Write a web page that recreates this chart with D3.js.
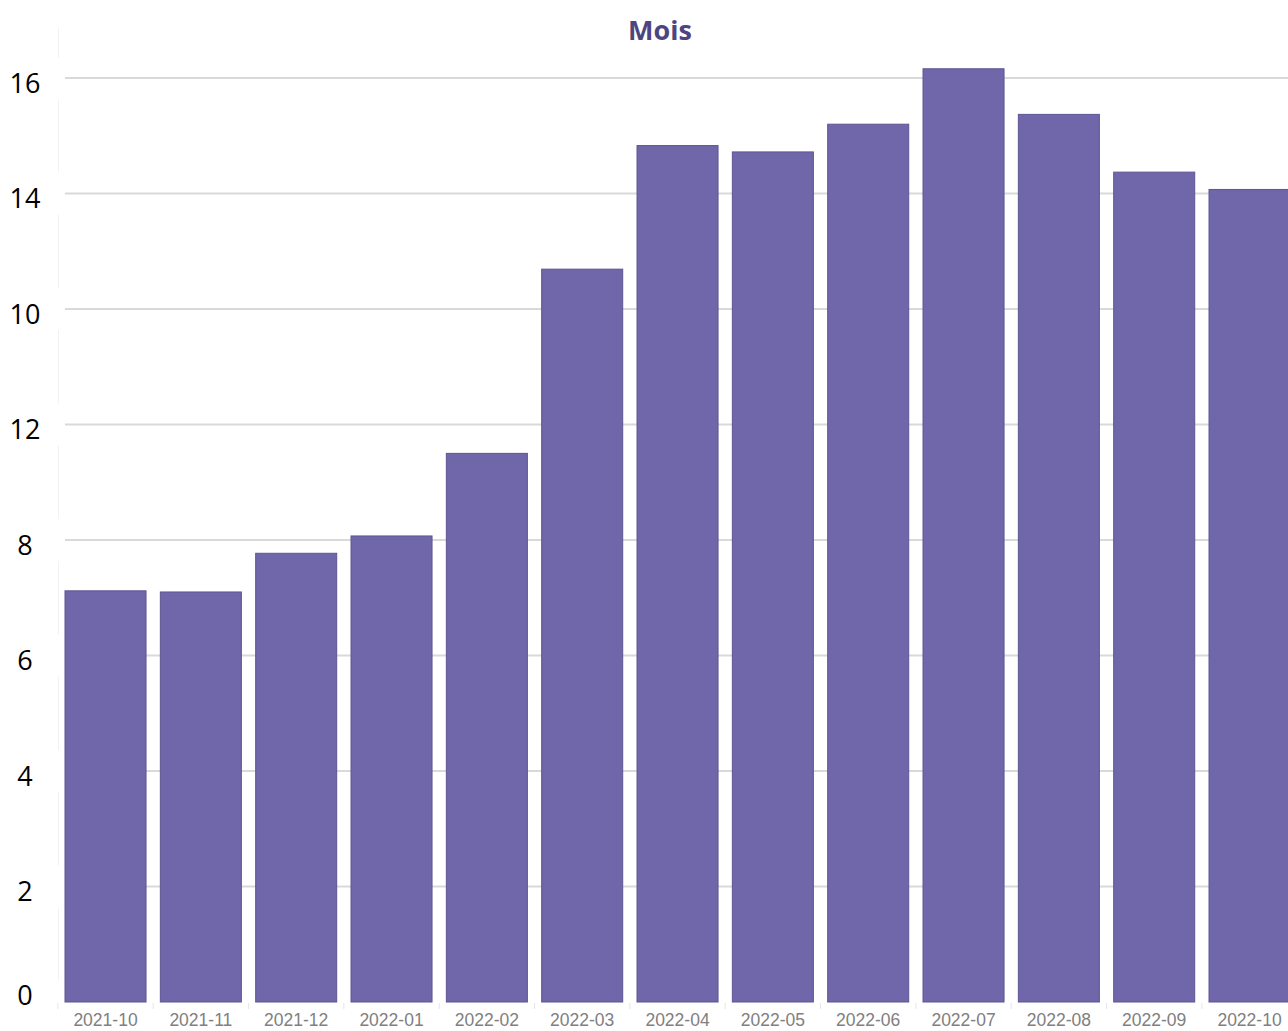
<!DOCTYPE html>
<html>
<head>
<meta charset="utf-8">
<script src="https://cdn.jsdelivr.net/npm/d3@7"></script>
<style>
  html, body { margin: 0; padding: 0; background: #fff; overflow: hidden; }
</style>
</head>
<body>
<div id="chart"></div>
<script>
// Monthly values
const months = ["2021-10", "2021-11", "2021-12", "2022-01", "2022-02", "2022-03", "2022-04",
                "2022-05", "2022-06", "2022-07", "2022-08", "2022-09", "2022-10"];
const values = [7.12, 7.10, 7.77, 8.07, 9.50, 12.69, 14.83, 14.72, 15.20, 16.16, 15.37, 14.37, 14.07];
// tick positions and the labels printed next to them (as in the original)
const tickValues = [0, 2, 4, 6, 8, 10, 12, 14, 16];
const tickLabels = ["0", "2", "4", "6", "8", "12", "10", "14", "16"];

function drawChart() {
    const width = 1288, height = 1031;
    const svg = d3.select("#chart").append("svg")
        .attr("width", width)
        .attr("height", height);

    const x = d3.scaleBand()
        .domain(months)
        .range([57.85, 1297.2])
        .paddingInner(0.15)
        .paddingOuter(0.075);

    const y = d3.scaleLinear()
        .domain([0, 16])
        .range([1002, 78]);

    // faint vertical axis line, broken around the labels
    const gaps = tickValues.map(v => y(v));
    const segs = [[27, gaps[8] - 20]];
    for (let i = 8; i > 0; i--) segs.push([gaps[i] + 21, gaps[i - 1] - 21]);
    svg.selectAll("line.vaxis").data(segs).enter().append("line")
        .attr("class", "vaxis")
        .attr("x1", 58.5).attr("x2", 58.5)
        .attr("y1", d => d[0]).attr("y2", d => d[1])
        .attr("stroke", "#f2f2f2").attr("stroke-width", 1);

    // gridlines
    svg.selectAll("line.grid").data(tickValues.filter(v => v > 0)).enter().append("line")
        .attr("class", "grid")
        .attr("x1", 65).attr("x2", width)
        .attr("y1", d => y(d)).attr("y2", d => y(d))
        .attr("stroke", "#d9d9d9").attr("stroke-width", 2);

    // bars
    svg.selectAll("rect.bar").data(values).enter().append("rect")
        .attr("class", "bar")
        .attr("x", (d, i) => x(months[i]))
        .attr("y", d => y(d))
        .attr("width", x.bandwidth())
        .attr("height", d => y(0) - y(d))
        .attr("fill", "#7067aa")
        .attr("stroke", "#5d5593")
        .attr("stroke-width", 1);

    // bottom ticks at band boundaries
    const bounds = months.map(m => x(m) - x.step() * x.paddingInner() / 2);
    svg.selectAll("line.xtick").data(bounds).enter().append("line")
        .attr("class", "xtick")
        .attr("x1", d => d).attr("x2", d => d)
        .attr("y1", 1003).attr("y2", 1009)
        .attr("stroke", "#e6e6e6").attr("stroke-width", 1);

    // x labels
    svg.selectAll("text.xlab").data(months).enter().append("text")
        .attr("class", "xlab")
        .attr("x", d => x(d) + x.bandwidth() / 2)
        .attr("y", 1026)
        .attr("text-anchor", "middle")
        .attr("font-family", "Liberation Sans, Arial, sans-serif")
        .attr("font-size", 17.5)
        .attr("fill", "#808080")
        .text(d => d);

    // y labels
    svg.selectAll("text.ylab").data(tickValues).enter().append("text")
        .attr("class", "ylab")
        .attr("x", 25)
        .attr("y", d => d === 0 ? y(d) - 7 : y(d) + 5)
        .attr("dy", "0.36em")
        .attr("text-anchor", "middle")
        .attr("font-family", "Open Sans, sans-serif")
        .attr("font-size", 27)
        .attr("fill", "#000")
        .text((d, i) => tickLabels[i]);

    // title
    svg.append("text")
        .attr("x", 660)
        .attr("y", 40)
        .attr("text-anchor", "middle")
        .attr("font-family", "Open Sans, sans-serif")
        .attr("font-weight", "bold")
        .attr("font-size", 27)
        .attr("fill", "#4d4580")
        .text("Mois");
}

document.addEventListener('DOMContentLoaded', drawChart);
</script>
</body>
</html>
